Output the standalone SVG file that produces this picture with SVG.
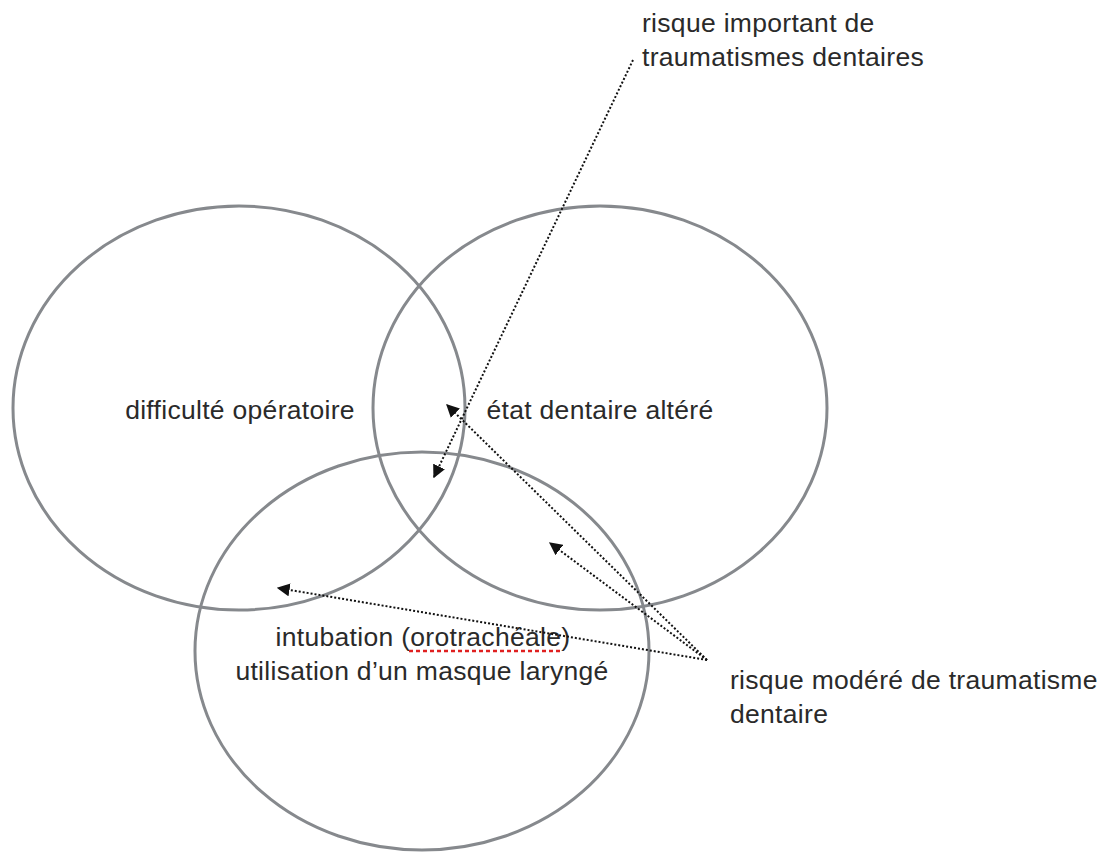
<svg xmlns="http://www.w3.org/2000/svg" width="1111" height="852" viewBox="0 0 1111 852">
<style>
.c{fill:none;stroke:#86898d;stroke-width:3}
.t{font-family:"Liberation Sans",Arial,sans-serif;font-size:26.5px;fill:#2a2a2a;letter-spacing:0.3px}
.a{fill:none;stroke:#111;stroke-width:2;stroke-dasharray:2 2}
</style>
<defs>
<marker id="ah" viewBox="0 0 10 10" refX="9" refY="5" markerWidth="13" markerHeight="13" markerUnits="userSpaceOnUse" orient="auto">
<path d="M0,0 L10,5 L0,10 z" fill="#111"/>
</marker>
</defs>
<rect width="1111" height="852" fill="#fff"/>
<g id="node-difficulte">
<ellipse class="c" cx="239" cy="408" rx="226" ry="202"/>
<text class="t" x="240" y="419" text-anchor="middle">difficulté opératoire</text>
</g>
<g id="node-etat">
<ellipse class="c" cx="600" cy="408" rx="227" ry="202"/>
<text class="t" x="600" y="419" text-anchor="middle">état dentaire altéré</text>
</g>
<g id="node-intubation">
<ellipse class="c" cx="422" cy="651" rx="227" ry="199"/>
<text class="t" x="423" y="646" text-anchor="middle">intubation (orotrachéale)</text>
<line x1="409" y1="651" x2="562" y2="651" stroke="#e02020" stroke-width="2.5" stroke-dasharray="4 3"/>
<text class="t" x="422" y="680" text-anchor="middle">utilisation d’un masque laryngé</text>
</g>
<g id="label-important">
<text class="t" x="642" y="32">risque important de</text>
<text class="t" x="642" y="66">traumatismes dentaires</text>
</g>
<g id="label-modere">
<text class="t" x="730" y="689">risque modéré de traumatisme</text>
<text class="t" x="730" y="723">dentaire</text>
</g>
<g id="connectors">
<line class="a" x1="633" y1="60" x2="434" y2="477" marker-end="url(#ah)"/>
<line class="a" x1="707" y1="660" x2="447" y2="405" marker-end="url(#ah)"/>
<line class="a" x1="707" y1="660" x2="550" y2="543" marker-end="url(#ah)"/>
<line class="a" x1="707" y1="660" x2="278" y2="588" marker-end="url(#ah)"/>
</g>
</svg>
